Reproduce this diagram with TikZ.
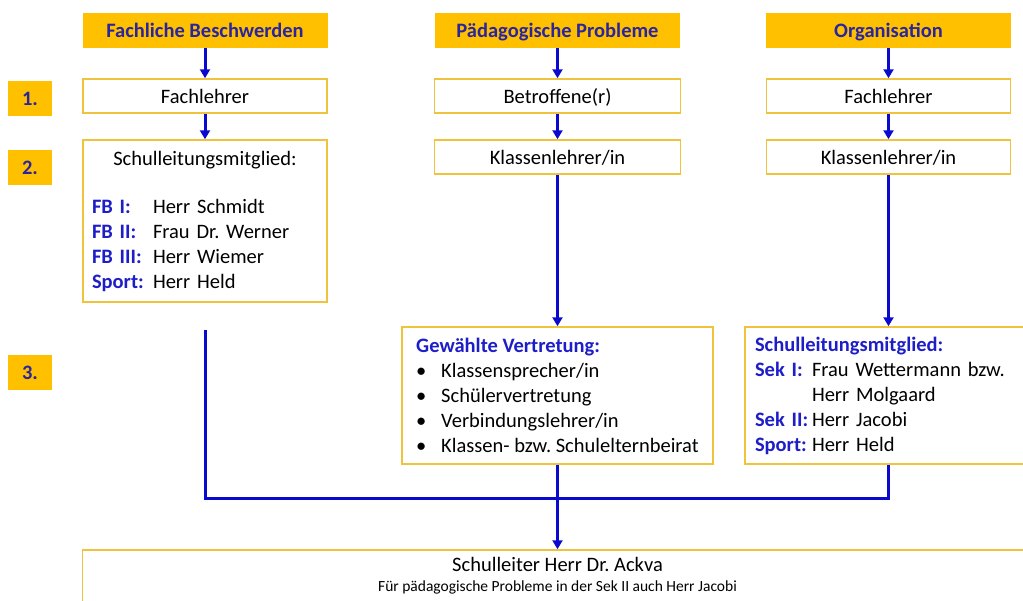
\documentclass[tikz,border=0pt]{standalone}
\usepackage{fontspec}
\setmainfont{Carlito}
\usetikzlibrary{arrows.meta}

\definecolor{gold}{HTML}{FFC000}
\definecolor{rahmen}{HTML}{F0C33C}
\definecolor{titelblau}{HTML}{2A259E}
\definecolor{kennblau}{HTML}{1E1EC8}
\definecolor{pfeilblau}{HTML}{0A0ACF}

\newcommand{\kennung}[1]{\textbf{\textcolor{kennblau}{#1}}}
\newcommand{\punkt}{\makebox[25pt][l]{\textbullet}}

\begin{document}
\frenchspacing
\fontsize{20.5}{25}\selectfont
\begin{tikzpicture}[x=1pt, y=-1pt,
    kopf/.style={fill=gold, minimum width=245pt, minimum height=35pt, inner sep=0pt, text height=16pt, text depth=2pt, font=\bfseries, text=titelblau},
    stufe/.style={fill=gold, minimum width=44pt, minimum height=35pt, inner sep=0pt, text height=16pt, text depth=2pt, font=\bfseries, text=titelblau},
    kasten/.style={draw=rahmen, line width=1.5pt, fill=white, minimum width=244pt, minimum height=34pt},
    zeile/.style={kasten, inner sep=0pt, text height=16pt, text depth=2pt},
    pfeil/.style={draw=pfeilblau, line width=3pt, -{Triangle[width=10pt,length=9pt]}},
    linie/.style={draw=pfeilblau, line width=3pt}]

    \useasboundingbox (0,0) rectangle (1023,600);
    \clip (0,0) rectangle (1023,600);

    % Node definitions
    \node (hfach) at (205,30) [kopf] {Fachliche Beschwerden};
    \node (hpaed) at (557.5,30) [kopf] {Pädagogische Probleme};
    \node (horg) at (888.5,30) [kopf] {Organisation};

    \node (s1) at (30,98) [stufe] {1.};
    \node (s2) at (30,167.5) [stufe] {2.};
    \node (s3) at (30,372.5) [stufe] {3.};

    \node (fach1) at (205,96) [zeile] {Fachlehrer};
    \node (betr) at (557.5,96) [zeile, minimum width=246pt] {Betroffene(r)};
    \node (fach2) at (888.5,96) [zeile] {Fachlehrer};
    \node (kll) at (557.5,157) [zeile, minimum width=246pt] {Klassenlehrer/in};
    \node (klr) at (888.5,157) [zeile] {Klassenlehrer/in};

    \node (slink) at (205,221) [kasten, minimum height=162pt, text width=226pt, align=left] {%
        \makebox[226pt]{Schulleitungsmitglied:}\\[23pt]
        \makebox[61pt][l]{\kennung{FB I:}}Herr Schmidt\\
        \makebox[61pt][l]{\kennung{FB II:}}Frau Dr. Werner\\
        \makebox[61pt][l]{\kennung{FB III:}}Herr Wiemer\\
        \makebox[61pt][l]{\kennung{Sport:}}Herr Held};

    \node (gew) at (557.5,395.5) [kasten, minimum width=311pt, minimum height=137pt, align=left] {%
        \kennung{Gewählte Vertretung:}\\
        \punkt Klassensprecher/in\\
        \punkt Schülervertretung\\
        \punkt Verbindungslehrer/in\\
        \punkt Klassen- bzw. Schulelternbeirat};

    \node (slr) at (890,395.5) [kasten, minimum width=290pt, minimum height=137pt, text width=270pt, align=left] {%
        \kennung{Schulleitungsmitglied:}\\
        \makebox[57pt][l]{\kennung{Sek I:}}Frau Wettermann bzw.\\
        \hspace*{57pt}Herr Molgaard\\
        \makebox[57pt][l]{\kennung{Sek II:}}Herr Jacobi\\
        \makebox[57pt][l]{\kennung{Sport:}}Herr Held};

    \node (chef) at (557.5,576) [kasten, minimum width=950pt, minimum height=52pt, align=center] {%
        Schulleiter Herr Dr. Ackva\\[-5pt]
        {\fontsize{15.5}{19}\selectfont Für pädagogische Probleme in der Sek II auch Herr Jacobi}};

    \coordinate (lstart) at ([yshift=-27pt]slink.south);
    \coordinate (sammel) at (557.5,498);

    % Edge definitions
    \draw[pfeil] (hfach) -- (fach1);
    \draw[pfeil] (fach1) -- (slink);
    \draw[pfeil] (hpaed) -- (betr);
    \draw[pfeil] (betr) -- (kll);
    \draw[pfeil] (kll) -- (gew);
    \draw[pfeil] (horg) -- (fach2);
    \draw[pfeil] (fach2) -- (klr);
    \draw[pfeil] (klr) -- (klr |- slr.north);
    \draw[linie] (lstart) |- (sammel) -| (klr |- slr.south);
    \draw[pfeil] (gew) -- (chef);
\end{tikzpicture}
\end{document}
